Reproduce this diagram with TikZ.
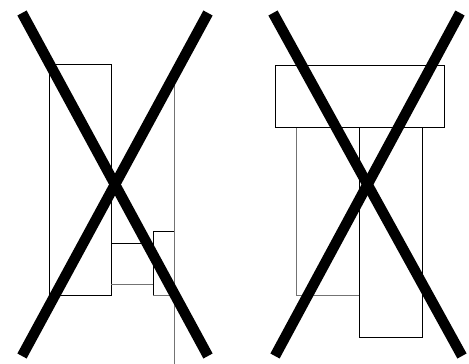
\documentclass[tikz,border=0pt]{standalone}
\tikzset{
  plate/.style={draw=black,line width=1pt},
  faint/.style={draw=black!55,line width=1pt},
  crossout/.style={line width=10.5pt,line cap=butt}
}
\begin{document}
\begin{tikzpicture}[x=1pt,y=-1pt]
\useasboundingbox (0,0) rectangle (469,364);

% left arrangement
\draw[plate] (49,64) rectangle (111,295);
\draw[faint] (174,85) -- (174,364);
\draw[plate] (111,243) -- (153,243);
\draw[faint] (111,284) -- (153,284);
\draw[plate] (153,295) |- (174,231);
\draw[faint] (153,295) -- (174,295);
\draw[crossout] (22,13) -- (208,356);
\draw[crossout] (208,13) -- (22,356);

% right arrangement
\draw[faint] (296,127) rectangle (359,295);
\draw[plate] (359,127) rectangle (422,337);
\draw[plate,fill=white] (275,65) rectangle (444,127);
\draw[crossout] (273,13) -- (462,356);
\draw[crossout] (460,13) -- (275,356);
\end{tikzpicture}
\end{document}
